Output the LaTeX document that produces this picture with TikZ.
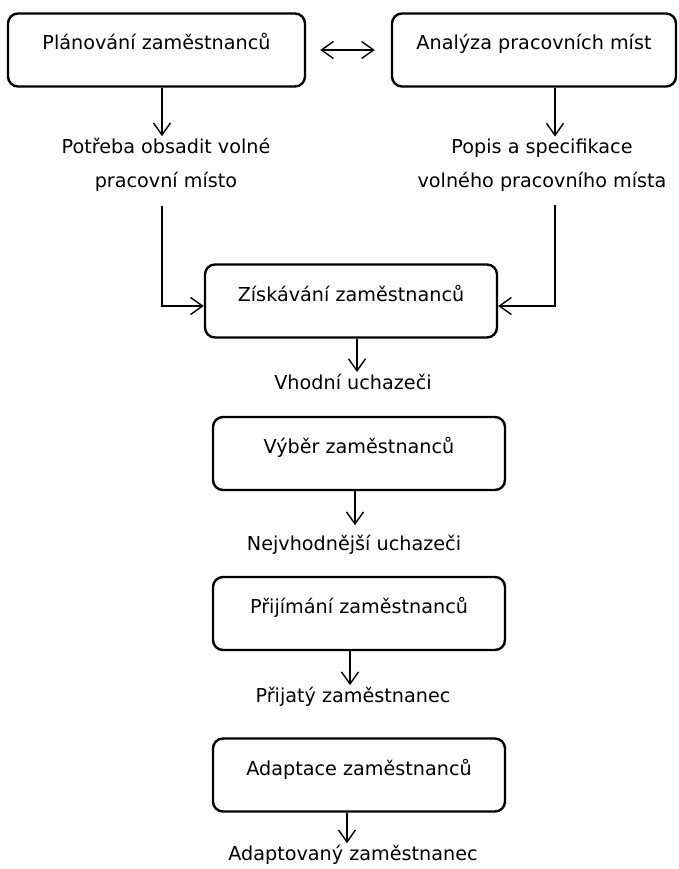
\documentclass[tikz,border=0pt]{standalone}
\usepackage{fontspec}
\setmainfont{DejaVu Sans}
\usetikzlibrary {arrows.meta,calc}

\begin{document}
\begin{tikzpicture}[x=1pt,y=-1pt,
        box/.style={draw,line width=2.4pt,rounded corners=10pt,minimum width=292pt,minimum height=73pt,
            text height=12pt,text depth=12pt,font=\fontsize{19.2pt}{34pt}\selectfont},
        lbl/.style={align=center,inner sep=2pt,font=\fontsize{19.2pt}{34pt}\selectfont},
        link/.style={line width=1.4pt,-{Straight Barb[length=12pt,width=17pt,line width=1.4pt]}},
        both/.style={line width=1.4pt,{Straight Barb[length=12pt,width=17pt,line width=1.4pt]}-{Straight Barb[length=12pt,width=17pt,line width=1.4pt]}}]
        \useasboundingbox (0,0) rectangle (678,869);

        \node[box,minimum width=297pt] (plan) at (156.5,50) {Plánování zaměstnanců};
        \node[box,minimum width=284pt] (analyza) at (534,50) {Analýza pracovních míst};
        \draw[both,shorten <=14pt,shorten >=16pt] (plan) -- (analyza);

        \node[lbl] (potreba) at (166,165) {Potřeba obsadit volné\\pracovní místo};
        \node[lbl] (popis) at (542,165) {Popis a specifikace\\volného pracovního místa};
        \draw[link] ([xshift=5.5pt]plan.south) -- ([xshift=-4pt]potreba.north);
        \draw[link] ([xshift=21pt]analyza.south) -- ([xshift=13pt]popis.north);

        \node[box] (ziskavani) at (351,301) {Získávání zaměstnanců};
        \draw[link,shorten <=12pt] ([xshift=-4pt]potreba.south) |- ([yshift=-5pt]ziskavani.west);
        \draw[link,shorten <=12pt] ([xshift=13pt]popis.south) |- ([yshift=-5pt]ziskavani.east);

        \node[lbl] (vhodni) at (353,382) {Vhodní uchazeči};
        \draw[link] ([xshift=6pt]ziskavani.south) -- ([xshift=4pt]vhodni.north);

        \node[box] (vyber) at (359,453.5) {Výběr zaměstnanců};
        \node[lbl] (nejvhodnejsi) at (354,545) {Nejvhodnější uchazeči};
        \draw[link,shorten >=8pt] ([xshift=-4pt]vyber.south) -- ([xshift=1pt]nejvhodnejsi.north);

        \node[box] (prijimani) at (359,613.5) {Přijímání zaměstnanců};
        \node[lbl] (prijaty) at (353,697) {Přijatý zaměstnanec};
        \draw[link] ([xshift=-9pt]prijimani.south) -- ([xshift=-3pt]prijaty.north);

        \node[box] (adaptace) at (359,775) {Adaptace zaměstnanců};
        \node[lbl] (adaptovany) at (353,855) {Adaptovaný zaměstnanec};
        \draw[link] ([xshift=-12pt]adaptace.south) -- ([xshift=-6pt]adaptovany.north);
    \end{tikzpicture}
\end{document}
